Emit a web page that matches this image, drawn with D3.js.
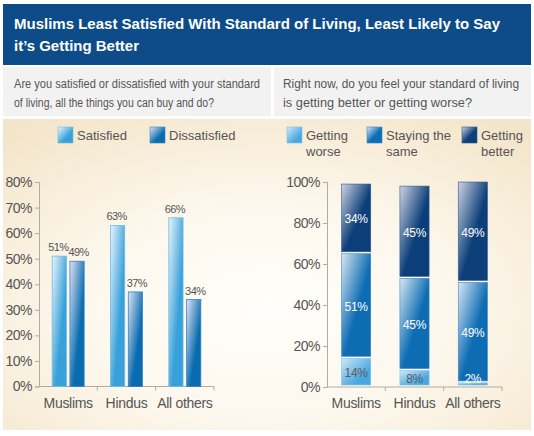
<!DOCTYPE html>
<html><head><meta charset="utf-8">
<script src="https://cdn.jsdelivr.net/npm/d3@7"></script>
<style>
html,body{margin:0;padding:0;background:#fff;}
svg{display:block;font-family:"Liberation Sans",Arial,Helvetica,sans-serif;}
</style></head>
<body>
<svg id="c" width="534" height="436"></svg>
<script>
// ---- data ----
const titleLines = ["Muslims Least Satisfied With Standard of Living, Least Likely to Say", "it\u2019s Getting Better"];
const leftQuestion = ["Are you satisfied or dissatisfied with your standard", "of living, all the things you can buy and do?"];
const rightQuestion = ["Right now, do you feel your standard of living", "is getting better or getting worse?"];
const categories = ["Muslims", "Hindus", "All others"];
const satSeries = ["Satisfied", "Dissatisfied"];
const satisfied = [51, 63, 66];
const dissatisfied = [49, 37, 34];
const leftTicks = [0, 10, 20, 30, 40, 50, 60, 70, 80];
const trendSeries = [["Getting", "worse"], ["Staying the", "same"], ["Getting", "better"]];
const gettingWorse = [14, 8, 2];
const stayingSame = [51, 45, 49];
const gettingBetter = [34, 45, 49];
const rightTicks = [0, 20, 40, 60, 80, 100];

const svg = d3.select("#c");
const defs = svg.append("defs");

// background gradient
const bg = defs.append("radialGradient").attr("id", "bg").attr("cx", "0.5").attr("cy", "0.62").attr("r", "0.75");
[[0, "#fffefa"], [0.45, "#fdf8ee"], [1, "#f3e5c9"]].forEach(s => bg.append("stop").attr("offset", s[0]).attr("stop-color", s[1]));

function grad(id, light, dark, at) {
  const g = defs.append("linearGradient").attr("id", id).attr("x1", 0).attr("y1", 0).attr("x2", 1).attr("y2", 1);
  g.append("stop").attr("offset", 0).attr("stop-color", light);
  g.append("stop").attr("offset", at).attr("stop-color", dark);
  g.append("stop").attr("offset", 1).attr("stop-color", dark);
}
grad("gSat", "#eaf4fb", "#38a1d9", 0.62);
grad("gDis", "#e2e2f1", "#0a6cb0", 0.62);
grad("gWorse", "#cfe8f7", "#49a8df", 0.7);
grad("gSame", "#d8e6f4", "#0d6cb2", 0.55);
grad("gBetter", "#cfd3e3", "#0c3f79", 0.55);

// header
svg.append("rect").attr("x", 3).attr("y", 4).attr("width", 528).attr("height", 61).attr("fill", "#0d4c88");
titleLines.forEach((t, i) => {
  const tx = svg.append("text").attr("x", 14).attr("y", 29 + i * 21.5).attr("fill", "#fff")
    .attr("font-size", 15.5).attr("font-weight", "bold").text(t);
  tx.attr("textLength", i === 0 ? 486 : 125).attr("lengthAdjust", "spacingAndGlyphs");
});

// question panels
svg.append("rect").attr("x", 3).attr("y", 67).attr("width", 268).attr("height", 49).attr("fill", "#f2f2f2");
svg.append("rect").attr("x", 274).attr("y", 67).attr("width", 257).attr("height", 49).attr("fill", "#f2f2f2");
const qlen = [[246, 200], [236, 189]];
[leftQuestion, rightQuestion].forEach((q, k) => {
  q.forEach((t, i) => {
    svg.append("text").attr("x", k === 0 ? 14 : 283).attr("y", 87.5 + i * 19).attr("fill", "#555")
      .attr("font-size", 12.5).attr("textLength", qlen[k][i]).attr("lengthAdjust", "spacingAndGlyphs").text(t);
  });
});

// chart background
svg.append("rect").attr("x", 3).attr("y", 119).attr("width", 528).attr("height", 311).attr("fill", "url(#bg)");

const axisColor = "#b0aca4";
const textColor = "#555";

// ---------- Left chart ----------
const yL = d3.scaleLinear().domain([0, 80]).range([386.5, 182]);
const xL = d3.scaleBand().domain(categories).range([39, 214]).padding(0);
const xInner = d3.scaleBand().domain(satSeries).range([-16, 16]).paddingInner(0.2);

const gL = svg.append("g");
const yAxisL = d3.axisLeft(yL).tickValues(leftTicks).tickSize(4).tickPadding(3).tickFormat(d => d + "%");
const ayL = gL.append("g").attr("transform", "translate(39,0)").call(yAxisL);
ayL.select(".domain").attr("stroke", axisColor);
ayL.selectAll(".tick line").attr("stroke", axisColor);
ayL.selectAll(".tick text").attr("fill", textColor).attr("font-size", 14).attr("font-family", "Liberation Sans, Arial, sans-serif").attr("letter-spacing", "-0.5");

// bottom axis
gL.append("line").attr("x1", 39).attr("x2", 214).attr("y1", yL(0)).attr("y2", yL(0)).attr("stroke", axisColor);
categories.forEach(c => {
  const xe = xL(c) + xL.bandwidth();
  gL.append("line").attr("x1", xe).attr("x2", xe).attr("y1", yL(0)).attr("y2", yL(0) + 4).attr("stroke", axisColor);
});

const leftData = [];
categories.forEach((c, i) => {
  leftData.push({ cat: c, s: "Satisfied", v: satisfied[i], fill: "url(#gSat)", stroke: "#6bbce6" });
  leftData.push({ cat: c, s: "Dissatisfied", v: dissatisfied[i], fill: "url(#gDis)", stroke: "#2f86c3" });
});
gL.selectAll("rect.bar").data(leftData).join("rect").attr("class", "bar")
  .attr("x", d => xL(d.cat) + xL.bandwidth() / 2 + xInner(d.s))
  .attr("width", xInner.bandwidth())
  .attr("y", d => yL(d.v))
  .attr("height", d => yL(0) - yL(d.v))
  .attr("fill", d => d.fill).attr("stroke", d => d.stroke).attr("stroke-width", 0.8);
gL.selectAll("text.val").data(leftData).join("text").attr("class", "val")
  .attr("x", d => xL(d.cat) + xL.bandwidth() / 2 + xInner(d.s) + xInner.bandwidth() / 2 + (d.s === "Satisfied" ? -1 : 1.5))
  .attr("y", d => yL(d.v) - 5)
  .attr("text-anchor", "middle").attr("fill", textColor).attr("font-size", 11).attr("letter-spacing", "-0.6")
  .text(d => d.v + "%");
gL.selectAll("text.cat").data(categories).join("text").attr("class", "cat")
  .attr("x", d => xL(d) + xL.bandwidth() / 2).attr("y", 408)
  .attr("text-anchor", "middle").attr("fill", textColor).attr("font-size", 14).attr("letter-spacing", "-0.3").text(d => d);

// left legend
const legL = [{ name: "Satisfied", x: 58, fill: "url(#gSat)", stroke: "#6bbce6" }, { name: "Dissatisfied", x: 150, fill: "url(#gDis)", stroke: "#2f86c3" }];
legL.forEach(l => {
  svg.append("rect").attr("x", l.x).attr("y", 127).attr("width", 15).attr("height", 16).attr("fill", l.fill).attr("stroke", l.stroke).attr("stroke-width", 0.6);
  svg.append("text").attr("x", l.x + 19).attr("y", 140).attr("fill", textColor).attr("font-size", 13).text(l.name);
});

// ---------- Right chart ----------
const yR = d3.scaleLinear().domain([0, 100]).range([387, 182]);
const xR = d3.scaleBand().domain(categories).range([327, 502]).paddingInner(0.5).paddingOuter(0.25);
const gR = svg.append("g");
const yAxisR = d3.axisLeft(yR).tickValues(rightTicks).tickSize(4).tickPadding(3).tickFormat(d => d + "%");
const ayR = gR.append("g").attr("transform", "translate(327,0)").call(yAxisR);
ayR.select(".domain").attr("stroke", axisColor);
ayR.selectAll(".tick line").attr("stroke", axisColor);
ayR.selectAll(".tick text").attr("fill", textColor).attr("font-size", 14).attr("font-family", "Liberation Sans, Arial, sans-serif").attr("letter-spacing", "-0.5");
gR.append("line").attr("x1", 327).attr("x2", 502).attr("y1", yR(0)).attr("y2", yR(0)).attr("stroke", axisColor);
const bandR = 175 / 3;
categories.forEach((c, i) => {
  const xe = 327 + bandR * (i + 1);
  gR.append("line").attr("x1", xe).attr("x2", xe).attr("y1", yR(0)).attr("y2", yR(0) + 4).attr("stroke", axisColor);
});

const stackKeys = ["worse", "same", "better"];
const table = categories.map((c, i) => ({ cat: c, worse: gettingWorse[i], same: stayingSame[i], better: gettingBetter[i] }));
const stacked = d3.stack().keys(stackKeys)(table);
const segFill = { worse: "url(#gWorse)", same: "url(#gSame)", better: "url(#gBetter)" };
const segStroke = { worse: "#7cc3ec", same: "#3a88c6", better: "#2a5a90" };
const segText = { worse: "#5a5a5a", same: "#fff", better: "#fff" };
const segGroups = [];
stacked.forEach(layer => {
  const k = layer.key;
  const g = gR.append("g");
  g.selectAll("rect").data(layer).join("rect")
    .attr("x", d => xR(d.data.cat))
    .attr("width", xR.bandwidth())
    .attr("y", d => yR(d[1]))
    .attr("height", d => Math.max(0.8, yR(d[0]) - yR(d[1]) - 2))
    .attr("fill", segFill[k]).attr("stroke", segStroke[k]).attr("stroke-width", 0.6);
  segGroups.push({ layer, k });
});
// labels drawn after all segments so none is hidden
segGroups.forEach(({ layer, k }) => {
  gR.append("g").selectAll("text").data(layer).join("text")
    .attr("x", d => xR(d.data.cat) + xR.bandwidth() / 2)
    .attr("y", d => Math.min((yR(d[0]) + yR(d[1])) / 2, yR(d[0]) - 9) + 4.5)
    .attr("text-anchor", "middle")
    .attr("fill", d => (yR(d[0]) - yR(d[1]) < 12 ? "#fff" : segText[k]))
    .attr("font-size", 12).attr("letter-spacing", "-0.3")
    .text(d => (d[1] - d[0]) + "%");
});
gR.selectAll("text.cat").data(categories).join("text").attr("class", "cat")
  .attr("x", d => xR(d) + xR.bandwidth() / 2).attr("y", 408)
  .attr("text-anchor", "middle").attr("fill", textColor).attr("font-size", 14).attr("letter-spacing", "-0.3").text(d => d);

// right legend
const legRX = [287, 367, 462];
const legRFill = ["url(#gWorse)", "url(#gSame)", "url(#gBetter)"];
trendSeries.forEach((lines, i) => {
  svg.append("rect").attr("x", legRX[i]).attr("y", 127).attr("width", 15).attr("height", 16).attr("fill", legRFill[i]).attr("stroke", segStroke[stackKeys[i]]).attr("stroke-width", 0.6);
  lines.forEach((t, j) => {
    svg.append("text").attr("x", legRX[i] + 19).attr("y", 140 + j * 16).attr("fill", textColor).attr("font-size", 13).text(t);
  });
});
</script>
</body></html>
